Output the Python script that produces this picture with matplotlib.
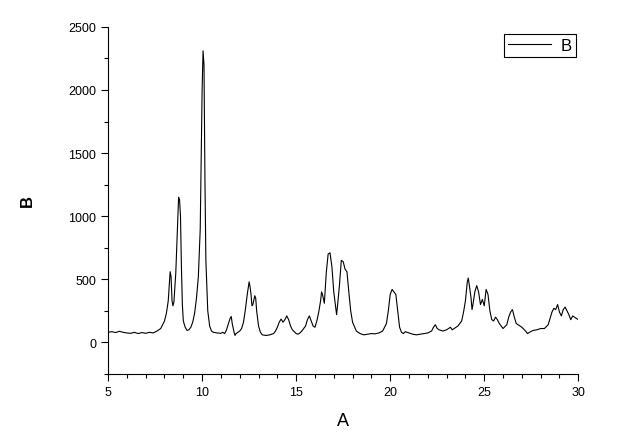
import matplotlib
matplotlib.use("Agg")
import matplotlib.pyplot as plt
from matplotlib.ticker import MultipleLocator

# diffraction pattern
two_theta = [5.0, 5.2, 5.4, 5.6, 5.8, 6.0, 6.2, 6.4, 6.6, 6.8, 7.0, 7.2, 7.4, 7.6, 7.8,
             8.0, 8.1, 8.2, 8.25, 8.3, 8.35, 8.4, 8.45, 8.5, 8.6, 8.7, 8.75, 8.8, 8.85,
             8.9, 8.95, 9.0, 9.1, 9.2, 9.3, 9.4, 9.5, 9.6, 9.7, 9.8, 9.9, 9.95, 10.0,
             10.05, 10.1, 10.15, 10.2, 10.3, 10.4, 10.5, 10.6, 10.8, 11.0, 11.1, 11.2,
             11.3, 11.4, 11.5, 11.55, 11.6, 11.7, 11.75, 11.8, 11.9, 12.0, 12.1, 12.2,
             12.3, 12.4, 12.5, 12.55, 12.6, 12.65, 12.7, 12.8, 12.85, 12.9, 13.0, 13.1,
             13.2, 13.4, 13.6, 13.8, 13.9, 14.0, 14.1, 14.2, 14.3, 14.4, 14.5, 14.6,
             14.7, 14.8, 15.0, 15.1, 15.2, 15.3, 15.5, 15.6, 15.7, 15.8, 15.9, 16.0,
             16.1, 16.2, 16.3, 16.35, 16.4, 16.5, 16.6, 16.7, 16.8, 16.9, 17.0, 17.1,
             17.15, 17.2, 17.3, 17.4, 17.5, 17.6, 17.7, 17.8, 17.9, 18.0, 18.2, 18.4,
             18.6, 18.8, 19.0, 19.2, 19.4, 19.6, 19.8, 19.9, 20.0, 20.1, 20.2, 20.3,
             20.4, 20.5, 20.6, 20.7, 20.8, 21.0, 21.2, 21.4, 21.6, 21.8, 22.0, 22.2,
             22.3, 22.4, 22.5, 22.6, 22.8, 23.0, 23.2, 23.3, 23.4, 23.6, 23.8, 23.9,
             24.0, 24.1, 24.15, 24.2, 24.3, 24.35, 24.4, 24.5, 24.6, 24.7, 24.8, 24.9,
             25.0, 25.1, 25.2, 25.3, 25.4, 25.5, 25.6, 25.7, 25.8, 26.0, 26.2, 26.3,
             26.4, 26.5, 26.6, 26.7, 26.8, 27.0, 27.2, 27.3, 27.4, 27.6, 27.8, 28.0,
             28.2, 28.4, 28.5, 28.6, 28.7, 28.8, 28.9, 29.0, 29.1, 29.2, 29.3, 29.4,
             29.5, 29.6, 29.7, 29.8, 29.9, 30.0]
intensity = [80, 85, 78, 88, 80, 75, 72, 80, 70, 78, 72, 80, 75, 90, 110,
             170, 230, 330, 450, 560, 520, 330, 290, 320, 550, 950, 1150, 1130, 1000,
             600, 300, 170, 120, 95, 100, 120, 160, 230, 350, 520, 900, 1450, 2000,
             2310, 2200, 1300, 650, 250, 130, 90, 80, 75, 72, 80, 70,
             100, 150, 195, 205, 150, 80, 55, 70, 80, 90, 110, 160,
             260, 380, 480, 440, 380, 290, 300, 370, 350, 250, 130, 80,
             60, 55, 60, 70, 90, 120, 160, 185, 160, 180, 210, 180,
             130, 100, 70, 65, 75, 90, 130, 180, 210, 170, 130, 120,
             170, 240, 330, 400, 380, 310, 550, 700, 710, 600, 400, 280,
             220, 290, 450, 650, 640, 580, 560, 400, 250, 160, 90, 70,
             60, 65, 70, 68, 75, 90, 150, 250, 380, 420, 400, 380,
             250, 120, 80, 70, 85, 75, 65, 60, 65, 70, 75, 90,
             120, 140, 110, 100, 90, 100, 120, 100, 110, 130, 170, 240,
             330, 480, 510, 460, 350, 260, 300, 400, 450, 400, 300, 340,
             290, 420, 380, 250, 180, 170, 200, 180, 150, 110, 140, 200,
             240, 260, 200, 150, 140, 120, 90, 70, 80, 95, 100, 110,
             110, 140, 190, 240, 270, 260, 300, 240, 210, 260, 280, 250,
             220, 180, 210, 200, 190, 180]

plt.rcParams['font.family'] = ['Liberation Sans', 'DejaVu Sans']

fig = plt.figure(figsize=(6.32, 4.35), dpi=100)
ax = fig.add_axes([0.171, 0.138, 0.744, 0.798])
ax.plot(two_theta, intensity, color='black', lw=0.8, label='B')

ax.set_xlim(5, 30)
ax.set_ylim(-250, 2500)
ax.xaxis.set_major_locator(MultipleLocator(5))
ax.xaxis.set_minor_locator(MultipleLocator(1))
ax.yaxis.set_major_locator(MultipleLocator(500))
ax.yaxis.set_minor_locator(MultipleLocator(250))
ax.tick_params(which='major', direction='out', length=5, width=0.8, labelsize=9)
ax.tick_params(which='minor', direction='out', length=3, width=0.8)
ax.spines['top'].set_visible(False)
ax.spines['right'].set_visible(False)

ax.set_xlabel('A', fontsize=13, labelpad=10)
ax.set_ylabel('B', fontsize=12, fontweight='bold', labelpad=24)

leg = ax.legend(loc='upper right', bbox_to_anchor=(0.996, 0.98), borderaxespad=0,
                fancybox=False, edgecolor='black', fontsize=12, handlelength=2.6,
                handletextpad=0.6, borderpad=0.25, framealpha=1)
leg.get_frame().set_linewidth(0.8)

fig.savefig('out.png', dpi=100)
